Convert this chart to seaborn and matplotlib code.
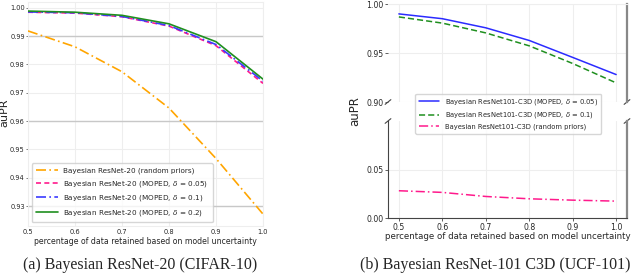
import matplotlib
matplotlib.use("Agg")
import matplotlib.pyplot as plt
import pandas as pd
import seaborn as sns
import numpy as np

# retained fraction of data (x axis, both panels)
retained = [0.5, 0.6, 0.7, 0.8, 0.9, 1.0]

# (a) Bayesian ResNet-20 on CIFAR-10
cifar_random = [0.9918, 0.9862, 0.9774, 0.9646, 0.9468, 0.9272]
cifar_moped_005 = [0.9984, 0.9981, 0.9968, 0.9935, 0.9866, 0.9733]
cifar_moped_01 = [0.9985, 0.9982, 0.9969, 0.9937, 0.9870, 0.9741]
cifar_moped_02 = [0.9988, 0.9984, 0.9973, 0.9943, 0.9880, 0.9748]

# (b) Bayesian ResNet-101 C3D on UCF-101
ucf_moped_005 = [0.9899, 0.9850, 0.9757, 0.9628, 0.9455, 0.9280]
ucf_moped_01 = [0.9868, 0.9805, 0.9705, 0.9573, 0.9393, 0.9195]
ucf_random = [0.0281, 0.0264, 0.0222, 0.0198, 0.0184, 0.0174]

cifar_labels = ["Bayesian ResNet-20 (random priors)",
                "Bayesian ResNet-20 (MOPED, $\\delta$ = 0.05)",
                "Bayesian ResNet-20 (MOPED, $\\delta$ = 0.1)",
                "Bayesian ResNet-20 (MOPED, $\\delta$ = 0.2)"]
ucf_labels = ["Bayesian ResNet101-C3D (MOPED, $\\delta$ = 0.05)",
              "Bayesian ResNet101-C3D (MOPED, $\\delta$ = 0.1)",
              "Bayesian ResNet101-C3D (random priors)"]

sns.set_style("whitegrid", {"grid.color": "#eeeeee", "axes.edgecolor": "#eeeeee"})
plt.rcParams["font.family"] = ["DejaVu Sans"]

fig = plt.figure(figsize=(6.4, 2.75), dpi=100)

# ---------------- left panel ----------------
ax = fig.add_axes([28 / 640, 1 - 226 / 275, 235 / 640, 224 / 275])
styles = [("#ffa500", (0, (6, 2, 1, 2))), ("#ff1a8c", (0, (3, 2))),
          ("#3b3bff", (0, (6, 2, 1, 2))), ("#1f8f1f", "-")]
for vals, lab, (col, ls) in zip([cifar_random, cifar_moped_005, cifar_moped_01, cifar_moped_02],
                                cifar_labels, styles):
    sns.lineplot(x=retained, y=vals, ax=ax, color=col, label=lab, lw=1.2, zorder=3)
    ax.lines[-1].set_linestyle(ls)
for yv in [0.99, 0.96, 0.93]:
    ax.axhline(yv, color="#c8c8c8", lw=1.0, zorder=1)
ax.set_xlim(0.5, 1.0)
ax.set_ylim(0.923, 1.002)
ax.set_xticks(retained)
ax.set_xticklabels(["0.5", "0.6", "0.7", "0.8", "0.9", "1.0"])
ax.set_yticks([0.93, 0.94, 0.95, 0.96, 0.97, 0.98, 0.99, 1.00])
ax.set_yticklabels(["0.93", "0.94", "0.95", "0.96", "0.97", "0.98", "0.99", "1.00"])
ax.tick_params(labelsize=4.8, length=1.5, width=0.6, pad=0.8, left=True, color="#666666")
ax.set_xlabel("percentage of data retained based on model uncertainty", fontsize=5.6, labelpad=1)
ax.set_ylabel("")
fig.text(4.5 / 640, 1 - 113 / 275, "auPR", rotation=90, fontsize=8, ha="center", va="center")
ax.legend(loc="lower left", fontsize=5.2, frameon=True, handlelength=3,
          borderpad=0.6, labelspacing=0.65, bbox_to_anchor=(0.0, 0.0))

# ---------------- right panel (broken axis) ----------------
ax_bot = fig.add_axes([388 / 640, 1 - 218 / 275, 239 / 640, 97 / 275])
ax_top = fig.add_axes([388 / 640, 1 - 102 / 275, 239 / 640, 98 / 275])
ax_top.set_zorder(5)
df_r = pd.DataFrame({"x": retained * 3,
                     "y": ucf_moped_005 + ucf_moped_01 + ucf_random,
                     "s": [ucf_labels[0]] * 6 + [ucf_labels[1]] * 6 + [ucf_labels[2]] * 6})
rcols = ["#2b2bff", "#1f8f1f", "#ff1a8c"]
rls = ["-", (0, (4, 2)), (0, (6, 2, 1, 2))]
for a in (ax_top, ax_bot):
    for i, lab in enumerate(ucf_labels):
        sub = df_r[df_r["s"] == lab]
        sns.lineplot(data=sub, x="x", y="y", ax=a, color=rcols[i], lw=1.1,
                     label=lab if a is ax_top else None)
        a.lines[-1].set_linestyle(rls[i])
    a.set_xlim(0.475, 1.025)
    a.set_xticks(retained)
    a.set_xlabel("")
    a.set_ylabel("")
    a.tick_params(labelsize=5.6, length=2.5, width=0.6, pad=1, left=True, color="#444444")
    a.spines["right"].set_color("#888888")
    a.spines["right"].set_linewidth(1.6)
ax_top.set_ylim(0.9, 1.0)
ax_top.set_yticks([0.90, 0.95, 1.00])
ax_top.set_yticklabels(["0.90", "0.95", "1.00"])
ax_top.tick_params(labelbottom=False, bottom=False)
ax_top.spines["bottom"].set_visible(False)
ax_top.spines["left"].set_visible(False)
ax_bot.set_ylim(0.0, 0.1)
ax_bot.set_yticks([0.00, 0.05])
ax_bot.set_yticklabels(["0.00", "0.05"])
ax_bot.set_xticklabels(["0.5", "0.6", "0.7", "0.8", "0.9", "1.0"])
ax_bot.tick_params(bottom=True)
ax_bot.spines["top"].set_visible(False)
for sp in ["left", "bottom"]:
    ax_bot.spines[sp].set_color("#444444")
    ax_bot.spines[sp].set_linewidth(0.8)
ax_bot.set_xlabel("percentage of data retained based on model uncertainty", fontsize=6.2, labelpad=0)

# break marks
d = 0.012
kw = dict(color="#444444", clip_on=False, lw=0.8)
ax_top.plot((-d, +d), (-d * 2, +d * 2), transform=ax_top.transAxes, **kw)
ax_top.plot((1 - d, 1 + d), (-d * 2, +d * 2), transform=ax_top.transAxes, **kw)
ax_bot.plot((-d, +d), (1 - d * 2, 1 + d * 2), transform=ax_bot.transAxes, **kw)
ax_bot.plot((1 - d, 1 + d), (1 - d * 2, 1 + d * 2), transform=ax_bot.transAxes, **kw)

ax_top.legend(loc="upper left", bbox_to_anchor=(0.1, 0.12), fontsize=4.9,
              handlelength=3, borderpad=0.5, labelspacing=0.5, frameon=True)
fig.text(355 / 640, 1 - 111 / 275, "auPR", rotation=90, fontsize=8.5, ha="center", va="center")

# captions
fig.text(140 / 640, 1 - 265 / 275, "(a) Bayesian ResNet-20 (CIFAR-10)",
         family="Liberation Serif", fontsize=11.5, ha="center", va="center")
fig.text(495 / 640, 1 - 265 / 275, "(b) Bayesian ResNet-101 C3D (UCF-101)",
         family="Liberation Serif", fontsize=11.5, ha="center", va="center")

fig.savefig("out.png", dpi=100)
